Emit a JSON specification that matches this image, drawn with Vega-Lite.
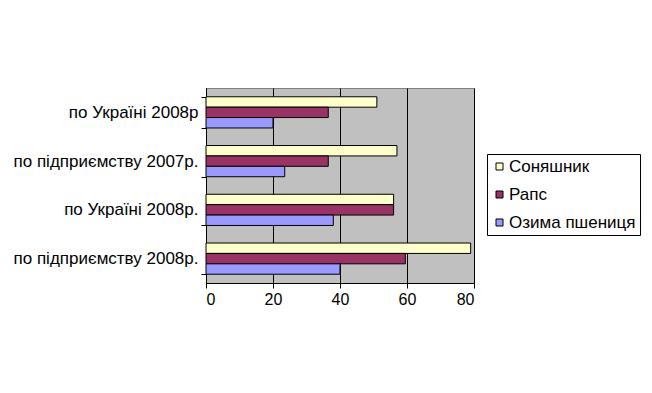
{
  "$schema": "https://vega.github.io/schema/vega-lite/v6.json",
  "autosize": "none",
  "width": 268,
  "height": 195,
  "padding": {"left": 206, "top": 88, "right": 178, "bottom": 110},
  "background": "white",
  "config": {
    "font": "Liberation Sans",
    "view": {"fill": "#C0C0C0", "stroke": "#808080", "strokeWidth": 1}
  },
  "data": {
    "values": [
      {"cat": "по Україні 2008р", "crop": "Соняшник", "value": 51},
      {"cat": "по Україні 2008р", "crop": "Рапс", "value": 36.5},
      {"cat": "по Україні 2008р", "crop": "Озима пшениця", "value": 20},
      {"cat": "по підприємству 2007р.", "crop": "Соняшник", "value": 57},
      {"cat": "по підприємству 2007р.", "crop": "Рапс", "value": 36.5},
      {"cat": "по підприємству 2007р.", "crop": "Озима пшениця", "value": 23.5},
      {"cat": "по Україні 2008р.", "crop": "Соняшник", "value": 56},
      {"cat": "по Україні 2008р.", "crop": "Рапс", "value": 56},
      {"cat": "по Україні 2008р.", "crop": "Озима пшениця", "value": 38},
      {"cat": "по підприємству 2008р.", "crop": "Соняшник", "value": 79},
      {"cat": "по підприємству 2008р.", "crop": "Рапс", "value": 59.5},
      {"cat": "по підприємству 2008р.", "crop": "Озима пшениця", "value": 40}
    ]
  },
  "mark": {"type": "bar", "stroke": "black", "strokeWidth": 1},
  "encoding": {
    "y": {
      "field": "cat",
      "type": "nominal",
      "sort": ["по Україні 2008р", "по підприємству 2007р.", "по Україні 2008р.", "по підприємству 2008р."],
      "scale": {"paddingInner": 0.36, "paddingOuter": 0.18},
      "axis": {
        "title": null,
        "domainColor": "black",
        "tickColor": "black",
        "tickSize": 5,
        "tickBand": "extent",
        "labelFontSize": 17,
        "labelColor": "black",
        "labelPadding": 3,
        "labelLimit": 300
      }
    },
    "yOffset": {
      "field": "crop",
      "type": "nominal",
      "sort": ["Соняшник", "Рапс", "Озима пшениця"],
      "scale": {"paddingInner": 0, "paddingOuter": 0}
    },
    "x": {
      "field": "value",
      "type": "quantitative",
      "scale": {"domain": [0, 80], "nice": false},
      "axis": {
        "title": null,
        "values": [0, 20, 40, 60, 80],
        "grid": true,
        "gridColor": "black",
        "gridOpacity": 1,
        "domainColor": "black",
        "tickColor": "black",
        "tickSize": 5,
        "labelFontSize": 16,
        "labelColor": "black",
        "labelPadding": 3
      }
    },
    "color": {
      "field": "crop",
      "type": "nominal",
      "sort": ["Соняшник", "Рапс", "Озима пшениця"],
      "scale": {"domain": ["Соняшник", "Рапс", "Озима пшениця"], "range": ["#FFFFCC", "#993366", "#9999FF"]},
      "legend": {
        "title": null,
        "orient": "none",
        "legendX": 281,
        "legendY": 66,
        "fillColor": "white",
        "strokeColor": "black",
        "padding": 4,
        "symbolType": "square",
        "symbolSize": 49,
        "symbolStrokeColor": "black",
        "symbolStrokeWidth": 1,
        "labelFontSize": 17,
        "labelColor": "black",
        "rowPadding": 10,
        "labelOffset": 1
      }
    }
  }
}
